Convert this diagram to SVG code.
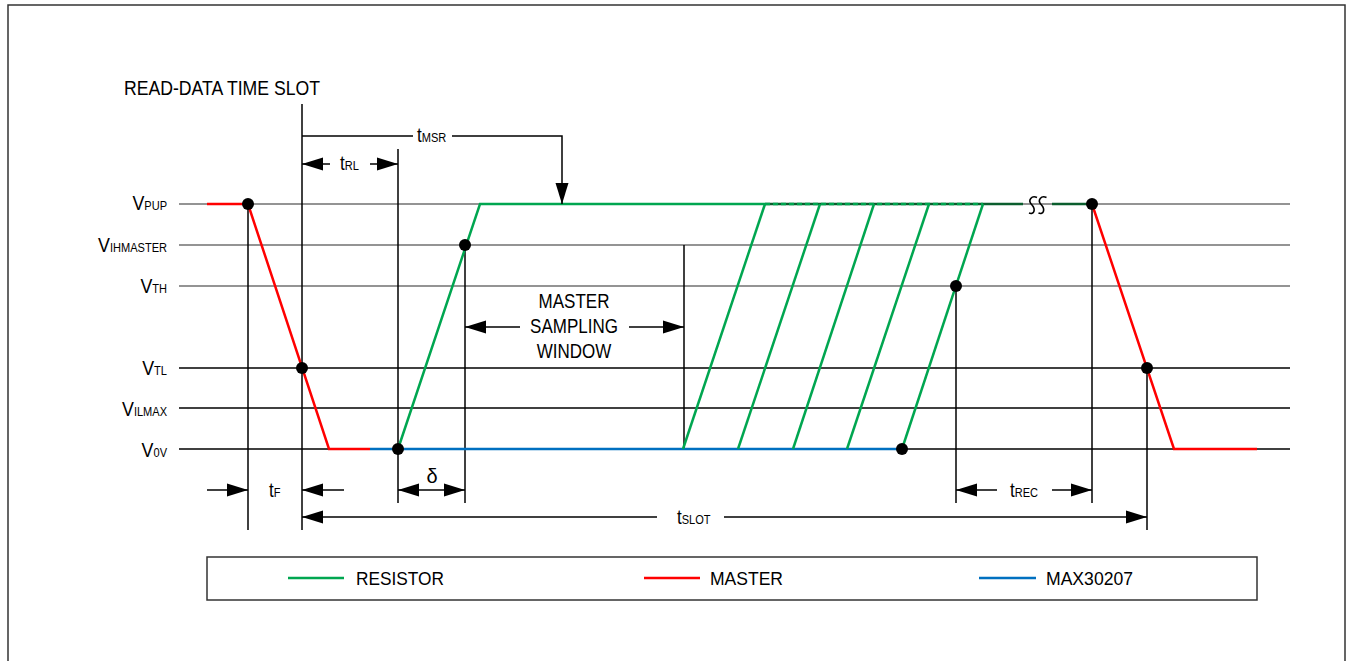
<svg xmlns="http://www.w3.org/2000/svg" width="1351" height="661" viewBox="0 0 1351 661">
<style>
text{font-family:"Liberation Sans",Arial,sans-serif;fill:#000}
.lbl{font-size:21px}
.sub{font-size:13px}
.tl{font-size:20px}
.grid{stroke-width:1.5;fill:none}
.g1{stroke:#707070}
.g2{stroke:#000}
.vl{stroke:#000;stroke-width:1.5;fill:none}
.sig{stroke-width:2.5;fill:none;stroke-linejoin:miter}
.res{stroke:#00a650}
.mas{stroke:#ff0000}
.max{stroke:#0070c0}
.dk{stroke:#0b5e2e}
.dim{stroke:#000;stroke-width:1.5;fill:none}
.dot{fill:#000}
</style>
<defs>
<marker id="ah" markerUnits="userSpaceOnUse" markerWidth="21" markerHeight="14" refX="21" refY="6.5" orient="auto-start-reverse" viewBox="0 0 21 13">
<path d="M0,0 L21,6.5 L0,13 Z" fill="#000"/>
</marker>
</defs>
<path d="M8,661 V5 H1345 V661" fill="none" stroke="#333" stroke-width="1.5"/>
<text x="124" y="95" font-size="19.5" textLength="196" lengthAdjust="spacingAndGlyphs">READ-DATA TIME SLOT</text>

<g id="grid">
<line class="grid g1" x1="179" y1="204" x2="1290" y2="204"/>
<line class="grid g1" x1="179" y1="245" x2="1290" y2="245"/>
<line class="grid g1" x1="179" y1="286" x2="1290" y2="286"/>
<line class="grid g2" x1="179" y1="368" x2="1290" y2="368"/>
<line class="grid g2" x1="179" y1="408" x2="1290" y2="408"/>
<line class="grid g2" x1="179" y1="449" x2="1290" y2="449"/>
</g>

<g id="levels">
<text class="lbl" text-anchor="end" transform="translate(167,210) scale(0.85,1)">V<tspan class="sub">PUP</tspan></text>
<text class="lbl" text-anchor="end" transform="translate(167,252) scale(0.85,1)">V<tspan class="sub">IHMASTER</tspan></text>
<text class="lbl" text-anchor="end" transform="translate(167,293) scale(0.85,1)">V<tspan class="sub">TH</tspan></text>
<text class="lbl" text-anchor="end" transform="translate(167,375) scale(0.85,1)">V<tspan class="sub">TL</tspan></text>
<text class="lbl" text-anchor="end" transform="translate(167,416) scale(0.85,1)">V<tspan class="sub">ILMAX</tspan></text>
<text class="lbl" text-anchor="end" transform="translate(167,457) scale(0.85,1)">V<tspan class="sub">0V</tspan></text>
</g>

<g id="verticals">
<line class="vl" x1="248" y1="204" x2="248" y2="530"/>
<line class="vl" x1="302" y1="104" x2="302" y2="530"/>
<line class="vl" x1="398" y1="149" x2="398" y2="503"/>
<line class="vl" x1="465" y1="245" x2="465" y2="503"/>
<line class="vl" x1="684" y1="245" x2="684" y2="449"/>
<line class="vl" x1="956" y1="286" x2="956" y2="503"/>
<line class="vl" x1="1092" y1="204" x2="1092" y2="503"/>
<line class="vl" x1="1147" y1="368" x2="1147" y2="530"/>
</g>

<g id="master">
<polyline class="sig mas" points="207,204 248,204 329,449 370,449"/>
<polyline class="sig mas" points="1092,204 1174,449 1257,449"/>
</g>
<g id="max30207">
<line class="sig max" x1="370" y1="449" x2="902" y2="449"/>
</g>
<g id="resistor">
<polyline class="sig res" points="398,449 480,204 765,204"/>
<line class="sig dk" x1="765" y1="204" x2="1023" y2="204"/>
<line class="sig res" x1="765" y1="204" x2="983" y2="204" stroke-dasharray="5 3"/>
<line class="sig dk" x1="1052" y1="204" x2="1092" y2="204"/>
<line class="sig res" x1="683" y1="449" x2="765" y2="204"/>
<line class="sig res" x1="738" y1="449" x2="820" y2="204"/>
<line class="sig res" x1="793" y1="449" x2="874" y2="204"/>
<line class="sig res" x1="847" y1="449" x2="929" y2="204"/>
<line class="sig res" x1="902" y1="449" x2="983" y2="204"/>
<path d="M1037,197.5 C1032,195 1027,200 1032,205 C1036,209.5 1034,215 1029,213" fill="none" stroke="#000" stroke-width="1.6"/>
<path d="M1046.5,197.5 C1041.5,195 1036.5,200 1041.5,205 C1045.5,209.5 1043.5,215 1038.5,213" fill="none" stroke="#000" stroke-width="1.6"/>
</g>

<g id="dots">
<circle class="dot" cx="248" cy="204" r="6"/>
<circle class="dot" cx="302" cy="368" r="6"/>
<circle class="dot" cx="398" cy="449" r="6"/>
<circle class="dot" cx="465" cy="245" r="6"/>
<circle class="dot" cx="956" cy="286" r="6"/>
<circle class="dot" cx="902" cy="449" r="6"/>
<circle class="dot" cx="1092" cy="204" r="6"/>
<circle class="dot" cx="1147" cy="368" r="6"/>
</g>

<g id="connectors">
<line class="dim" x1="302" y1="136" x2="413" y2="136"/>
<path class="dim" d="M452,136 H562 V204" marker-end="url(#ah)"/>
<line class="dim" x1="330" y1="164" x2="302" y2="164" marker-end="url(#ah)"/>
<line class="dim" x1="370" y1="164" x2="398" y2="164" marker-end="url(#ah)"/>
<line class="dim" x1="207" y1="490" x2="248" y2="490" marker-end="url(#ah)"/>
<line class="dim" x1="344" y1="490" x2="302" y2="490" marker-end="url(#ah)"/>
<line class="dim" x1="398" y1="490" x2="465" y2="490" marker-start="url(#ah)" marker-end="url(#ah)"/>
<line class="dim" x1="657" y1="517" x2="302" y2="517" marker-end="url(#ah)"/>
<line class="dim" x1="724" y1="517" x2="1147" y2="517" marker-end="url(#ah)"/>
<line class="dim" x1="997" y1="490" x2="956" y2="490" marker-end="url(#ah)"/>
<line class="dim" x1="1052" y1="490" x2="1092" y2="490" marker-end="url(#ah)"/>
<line class="dim" x1="520" y1="327" x2="465" y2="327" marker-end="url(#ah)"/>
<line class="dim" x1="629" y1="327" x2="684" y2="327" marker-end="url(#ah)"/>
</g>

<g id="timing-labels">
<text class="tl" transform="translate(417,142) scale(0.85,1)">t<tspan class="sub">MSR</tspan></text>
<text class="tl" transform="translate(340,170) scale(0.85,1)">t<tspan class="sub">RL</tspan></text>
<text class="tl" transform="translate(269,497) scale(0.85,1)">t<tspan class="sub">F</tspan></text>
<text class="tl" x="432" y="483" text-anchor="middle">δ</text>
<text class="tl" transform="translate(677,524) scale(0.85,1)">t<tspan class="sub">SLOT</tspan></text>
<text class="tl" transform="translate(1010,497) scale(0.85,1)">t<tspan class="sub">REC</tspan></text>
</g>

<g id="sampling-window">
<text class="tl" text-anchor="middle" transform="translate(574,308) scale(0.85,1)">MASTER</text>
<text class="tl" text-anchor="middle" transform="translate(574,333) scale(0.85,1)">SAMPLING</text>
<text class="tl" text-anchor="middle" transform="translate(574,358) scale(0.85,1)">WINDOW</text>
</g>

<g id="legend">
<rect x="207" y="557" width="1050" height="43" fill="#fff" stroke="#333" stroke-width="1.5"/>
<line class="sig res" x1="288" y1="578" x2="344" y2="578"/>
<text x="356" y="585" font-size="19" textLength="88" lengthAdjust="spacingAndGlyphs">RESISTOR</text>
<line class="sig mas" x1="644" y1="578" x2="700" y2="578"/>
<text x="710" y="585" font-size="19" textLength="73" lengthAdjust="spacingAndGlyphs">MASTER</text>
<line class="sig max" x1="979" y1="578" x2="1036" y2="578"/>
<text x="1046" y="585" font-size="19" textLength="87" lengthAdjust="spacingAndGlyphs">MAX30207</text>
</g>
</svg>
